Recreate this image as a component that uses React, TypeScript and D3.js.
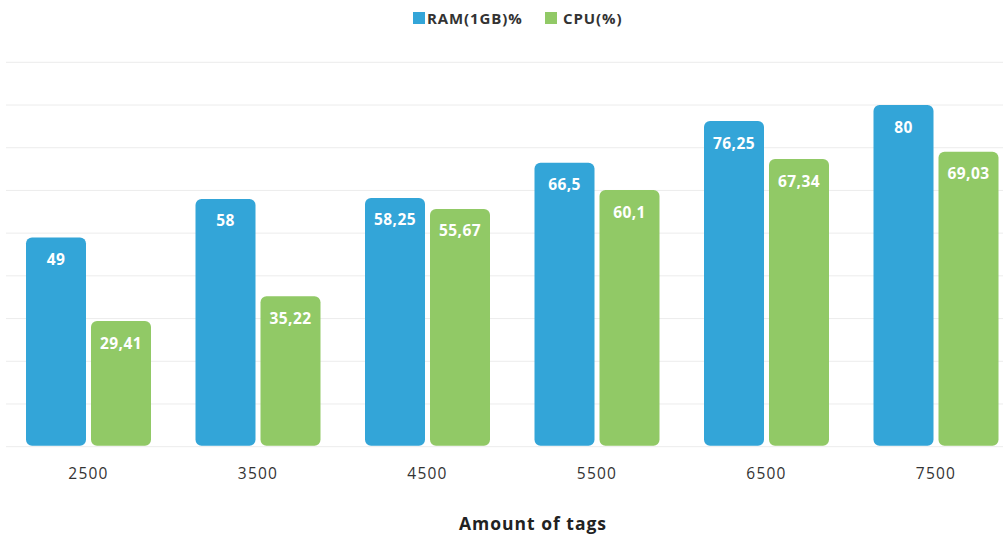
import * as d3 from "d3";

const categories = ["2500", "3500", "4500", "5500", "6500", "7500"];
const seriesNames = ["RAM(1GB)%", "CPU(%)"];
const ramValues = [49, 58, 58.25, 66.5, 76.25, 80];
const cpuValues = [29.41, 35.22, 55.67, 60.1, 67.34, 69.03];
const valueLabels = [
  ["49", "58", "58,25", "66,5", "76,25", "80"],
  ["29,41", "35,22", "55,67", "60,1", "67,34", "69,03"],
];
const yTicks = [0, 10, 20, 30, 40, 50, 60, 70, 80, 90];

const colors = ["#33a5d8", "#91c966"];
const font = "'Open Sans', 'DejaVu Sans', sans-serif";

export default function App() {
  const width = 1003;
  const height = 536;

  const y = d3.scaleLinear().domain([0, 90]).range([446.7, 62.3]);
  const x0 = d3.scaleBand<string>().domain(categories).range([3.75, 1020.75]).padding(0);
  const x1 = d3
    .scaleBand<string>()
    .domain(seriesNames)
    .range([22.25, 147.25])
    .paddingInner(5 / 65)
    .paddingOuter(0);

  const series = [ramValues, cpuValues];

  return (
    <svg
      width={width}
      height={height}
      style={{ position: "absolute", left: 0, top: 0, background: "#fff" }}
    >
      {/* gridlines */}
      {yTicks.map((t) => (
        <line
          key={t}
          x1={6}
          x2={width}
          y1={y(t)}
          y2={y(t)}
          stroke="#ececec"
          strokeWidth={1}
        />
      ))}

      {/* bars */}
      {categories.map((c, i) => (
        <g key={c} transform={`translate(${x0(c)},0)`}>
          {series.map((vals, s) => {
            const top = y(vals[i]);
            const bx = x1(seriesNames[s]) ?? 0;
            return (
              <g key={s}>
                <rect
                  x={bx}
                  y={top}
                  width={x1.bandwidth()}
                  height={y(0) - 1 - top}
                  rx={6}
                  ry={6}
                  fill={colors[s]}
                />
                <text
                  x={bx + x1.bandwidth() / 2}
                  y={top + 27.5}
                  textAnchor="middle"
                  fill="#fff"
                  fontFamily={font}
                  fontWeight={700}
                  fontSize={15.5}
                  letterSpacing={0.4}
                >
                  {valueLabels[s][i]}
                </text>
              </g>
            );
          })}
          <text
            x={x0.bandwidth() / 2}
            y={479}
            textAnchor="middle"
            fill="#333"
            fontFamily={font}
            fontSize={15.5}
            letterSpacing={1.2}
          >
            {c}
          </text>
        </g>
      ))}

      {/* legend */}
      <g fontFamily={font} fontWeight={700} fontSize={15} fill="#333" letterSpacing={0.9}>
        <rect x={413} y={12} width={12} height={12} fill={colors[0]} />
        <text x={427} y={24}>
          {seriesNames[0]}
        </text>
        <rect x={545} y={12} width={12} height={12} fill={colors[1]} />
        <text x={563} y={24}>
          {seriesNames[1]}
        </text>
      </g>

      {/* axis title */}
      <text
        x={533}
        y={530}
        textAnchor="middle"
        fill="#222"
        fontFamily={font}
        fontWeight={700}
        fontSize={17.5}
        letterSpacing={1}
      >
        Amount of tags
      </text>
    </svg>
  );
}
